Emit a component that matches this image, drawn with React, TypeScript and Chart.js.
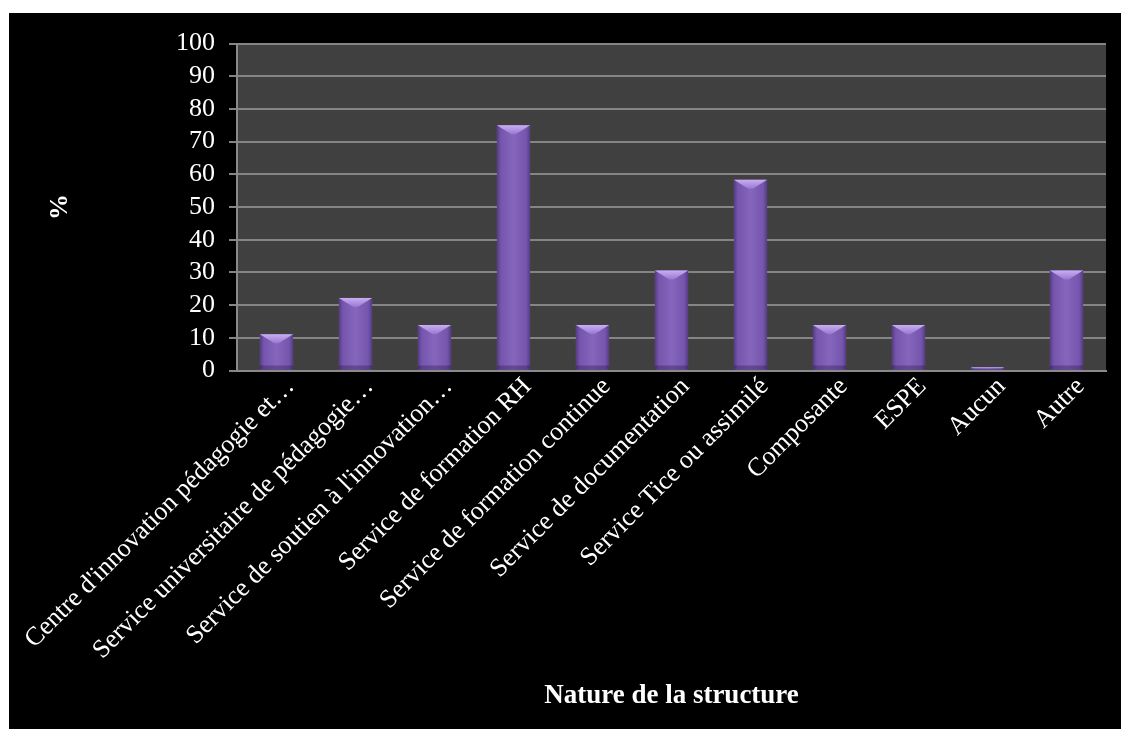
import React, { useEffect, useRef } from "react";
import { Chart, registerables } from "chart.js";

Chart.register(...registerables);

const categories = [
  "Centre d'innovation pédagogie et…",
  "Service universitaire de pédagogie…",
  "Service de soutien à l'innovation…",
  "Service de formation RH",
  "Service de formation continue",
  "Service de documentation",
  "Service Tice ou assimilé",
  "Composante",
  "ESPE",
  "Aucun",
  "Autre",
];
const values = [11.1, 22.2, 13.9, 75, 13.9, 30.6, 58.3, 13.9, 13.9, 1, 30.6];
const yTicks = [0, 10, 20, 30, 40, 50, 60, 70, 80, 90, 100];
const xTitle = "Nature de la structure";
const yTitle = "%";

const W = 1112;
const H = 716;
const PAD_LEFT = 33;
const AREA_LEFT = 228;
const AREA_TOP = 30.5;
const AREA_BOTTOM = 357.5;
const FONT = "'Liberation Serif', 'Times New Roman', serif";

const bgPlugin = {
  id: "bgPlugin",
  beforeDraw(chart: any) {
    const { ctx, chartArea } = chart;
    ctx.save();
    ctx.fillStyle = "#000000";
    ctx.fillRect(0, 0, chart.width, chart.height);
    ctx.fillStyle = "#404040";
    ctx.fillRect(chartArea.left, chartArea.top, chartArea.right - chartArea.left, chartArea.bottom - chartArea.top);
    ctx.restore();
  },
};

const bevelPlugin = {
  id: "bevelPlugin",
  afterDatasetsDraw(chart: any) {
    const { ctx } = chart;
    const meta = chart.getDatasetMeta(0);
    meta.data.forEach((bar: any) => {
      const { x, y, base, width } = bar.getProps(["x", "y", "base", "width"], true);
      const l = x - width / 2;
      const r = x + width / 2;
      const t = Math.min(y, base);
      const b = Math.max(y, base);
      const h = b - t;
      if (h <= 0) return;
      ctx.save();
      const g = ctx.createLinearGradient(l, 0, r, 0);
      g.addColorStop(0, "#553c85");
      g.addColorStop(0.12, "#7656ad");
      g.addColorStop(0.5, "#8566bd");
      g.addColorStop(0.88, "#7656ad");
      g.addColorStop(1, "#553c85");
      ctx.fillStyle = g;
      ctx.fillRect(l, t, width, h);
      const bh = Math.min(9, h / 2);
      const vg = ctx.createLinearGradient(0, t, 0, t + bh);
      vg.addColorStop(0, "#c9aef2");
      vg.addColorStop(1, "#9878d0");
      ctx.fillStyle = vg;
      ctx.beginPath();
      ctx.moveTo(l, t);
      ctx.lineTo(r, t);
      ctx.lineTo(r - bh * 1.6, t + bh);
      ctx.lineTo(l + bh * 1.6, t + bh);
      ctx.closePath();
      ctx.fill();
      const bb = Math.min(4, h / 4);
      ctx.fillStyle = "rgba(40,20,70,0.35)";
      ctx.fillRect(l, b - bb, width, bb);
      ctx.restore();
    });
  },
};

export default function App() {
  const ref = useRef<HTMLCanvasElement | null>(null);
  useEffect(() => {
    if (!ref.current) return;
    const chart = new Chart(ref.current, {
      type: "bar",
      data: {
        labels: categories,
        datasets: [
          {
            data: values,
            backgroundColor: "#7d5cb4",
            borderWidth: 0,
            barPercentage: 0.42,
            categoryPercentage: 1,
          },
        ],
      },
      plugins: [bgPlugin, bevelPlugin],
      options: {
        animation: false,
        responsive: false,
        maintainAspectRatio: false,
        layout: { padding: { left: PAD_LEFT, top: AREA_TOP, right: 15, bottom: 0 } },
        plugins: { legend: { display: false }, tooltip: { enabled: false } },
        scales: {
          x: {
            grid: { display: false },
            border: { display: true, color: "#8a8a8a", width: 2 },
            ticks: {
              color: "#ffffff",
              font: { family: FONT, size: 26 },
              minRotation: 45,
              maxRotation: 45,
              autoSkip: false,
              padding: -7,
              labelOffset: 14,
            },
            title: {
              display: true,
              text: xTitle,
              color: "#ffffff",
              font: { family: FONT, size: 27, weight: "bold" },
              padding: { top: 4, bottom: 17 },
            },
            afterFit(scale: any) {
              scale.height = H - AREA_BOTTOM;
            },
          },
          y: {
            min: 0,
            max: 100,
            afterBuildTicks(scale: any) {
              scale.ticks = yTicks.map((v) => ({ value: v }));
            },
            grid: { color: "#858585", lineWidth: 2, tickLength: 8, drawTicks: true },
            border: { display: true, color: "#8a8a8a", width: 2 },
            ticks: {
              color: "#ffffff",
              font: { family: FONT, size: 26 },
              padding: 14,
              autoSkip: false,
            },
            title: {
              display: true,
              text: yTitle,
              color: "#ffffff",
              font: { family: FONT, size: 26, weight: "bold" },
              padding: { top: 3, bottom: 4 },
            },
            afterFit(scale: any) {
              scale.width = AREA_LEFT - PAD_LEFT;
            },
          },
        },
      },
    });
    return () => chart.destroy();
  }, []);
  return (
    <div style={{ position: "absolute", left: 9, top: 13, width: W, height: H, background: "#000" }}>
      <canvas ref={ref} width={W} height={H} style={{ display: "block", width: W, height: H }} />
    </div>
  );
}
